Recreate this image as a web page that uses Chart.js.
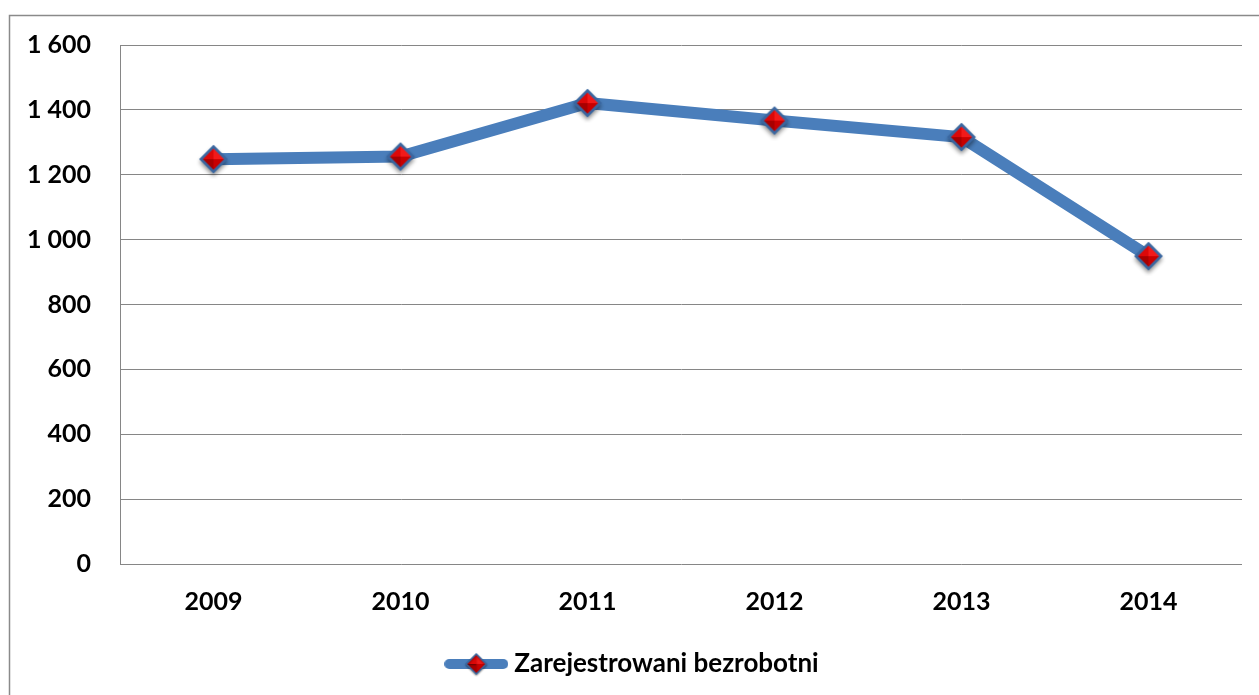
<!DOCTYPE html>
<html>
<head>
<meta charset="utf-8">
<script src="https://cdn.jsdelivr.net/npm/chart.js@4"></script>
<style>
html,body{margin:0;padding:0;background:#fff;}
#wrap{width:1259px;height:695px;position:relative;}
</style>
</head>
<body>
<div id="wrap"><canvas id="c" width="1259" height="695"></canvas></div>
<script>
const years = ['2009', '2010', '2011', '2012', '2013', '2014'];
const unemployed = [1248, 1256, 1421, 1367, 1316, 949];
const yTicks = [0, 200, 400, 600, 800, 1000, 1200, 1400, 1600];
const seriesName = 'Zarejestrowani bezrobotni';

const FONT = "Lato, 'Open Sans', sans-serif";
const LINE = '#4A7EBB';
const GRID = '#868686';

function diamond(ctx, cx, cy, r, border) {
  const pts = [[cx, cy - r], [cx + r, cy], [cx, cy + r], [cx - r, cy]];
  const cols = ['#F21A1A', '#C80000', '#A80000', '#DC0808'];
  for (let i = 0; i < 4; i++) {
    const a = pts[i], b = pts[(i + 1) % 4];
    ctx.beginPath();
    ctx.moveTo(cx, cy); ctx.lineTo(a[0], a[1]); ctx.lineTo(b[0], b[1]); ctx.closePath();
    ctx.fillStyle = cols[i]; ctx.fill();
  }
  ctx.beginPath();
  ctx.moveTo(pts[0][0], pts[0][1]);
  for (let i = 1; i < 4; i++) ctx.lineTo(pts[i][0], pts[i][1]);
  ctx.closePath();
  ctx.lineWidth = border; ctx.strokeStyle = '#3A67A0'; ctx.stroke();
}

function makeMarker() {
  const c = document.createElement('canvas');
  c.width = 40; c.height = 40;
  const ctx = c.getContext('2d');
  ctx.save();
  ctx.shadowColor = 'rgba(0,0,0,0.45)';
  ctx.shadowBlur = 4; ctx.shadowOffsetY = 3;
  ctx.beginPath();
  ctx.moveTo(20, 6); ctx.lineTo(34, 20); ctx.lineTo(20, 34); ctx.lineTo(6, 20); ctx.closePath();
  ctx.fillStyle = '#3A67A0'; ctx.fill();
  ctx.restore();
  diamond(ctx, 20, 20, 12.5, 2.5);
  return c;
}

function makeLegendImg() {
  const c = document.createElement('canvas');
  c.width = 64; c.height = 26;
  const ctx = c.getContext('2d');
  ctx.beginPath();
  ctx.moveTo(5, 13); ctx.lineTo(59, 13);
  ctx.lineCap = 'round'; ctx.lineWidth = 10; ctx.strokeStyle = LINE; ctx.stroke();
  ctx.save();
  ctx.shadowColor = 'rgba(0,0,0,0.4)'; ctx.shadowBlur = 2; ctx.shadowOffsetY = 1;
  diamond(ctx, 32, 13, 10, 1.5);
  ctx.restore();
  return c;
}

const markerImg = makeMarker();
const legendImg = makeLegendImg();

const framePlugin = {
  id: 'frame',
  beforeDraw(chart) {
    const ctx = chart.ctx;
    ctx.save();
    ctx.fillStyle = '#fff';
    ctx.fillRect(0, 0, chart.width, chart.height);
    ctx.strokeStyle = '#8a8a8a';
    ctx.lineWidth = 1.5;
    ctx.strokeRect(9.5, 15.5, 1300, 720);
    ctx.restore();
  },
  afterLayout(chart) {
    if (chart.legend) { chart.legend.left += 14; chart.legend.right += 14; }
  }
};

const fmt = v => String(v).replace(/\B(?=(\d{3})+(?!\d))/g, ' ');

new Chart(document.getElementById('c'), {
  type: 'line',
  data: {
    labels: years,
    datasets: [{
      label: seriesName,
      data: unemployed,
      borderColor: LINE,
      backgroundColor: LINE,
      borderWidth: 12,
      borderJoinStyle: 'round',
      borderCapStyle: 'round',
      tension: 0,
      pointStyle: markerImg,
      pointRadius: 14,
      pointHoverRadius: 14
    }]
  },
  options: {
    responsive: false,
    animation: false,
    events: [],
    layout: { autoPadding: false, padding: { left: 0, right: 17, top: 45, bottom: 8 } },
    scales: {
      x: {
        offset: true,
        grid: { display: false, drawTicks: false },
        border: { display: false },
        ticks: { color: '#000', font: { family: FONT, size: 25, weight: 'bold' }, padding: 23, maxRotation: 0 },
        afterFit(s) { s.height = 77; s.paddingLeft = 0; s.paddingRight = 0; }
      },
      y: {
        min: 0, max: 1600,
        afterBuildTicks(s) { s.ticks = yTicks.map(v => ({ value: v })); },
        grid: { color: GRID, lineWidth: 1, drawTicks: false },
        border: { display: true, color: GRID, width: 1 },
        ticks: { color: '#000', font: { family: FONT, size: 25, weight: 'bold' }, padding: 29, callback: v => fmt(v) },
        afterFit(s) { s.width = 120; }
      }
    },
    plugins: {
      legend: {
        position: 'bottom',
        labels: {
          usePointStyle: true,
          pointStyleWidth: 50,
          color: '#000',
          font: { family: FONT, size: 26, weight: 'bold' },
          padding: 10,
          generateLabels: () => [{
            text: seriesName, pointStyle: legendImg, fillStyle: LINE,
            strokeStyle: LINE, lineWidth: 0, hidden: false, datasetIndex: 0
          }]
        }
      },
      tooltip: { enabled: false }
    }
  },
  plugins: [framePlugin]
});
</script>
</body>
</html>
